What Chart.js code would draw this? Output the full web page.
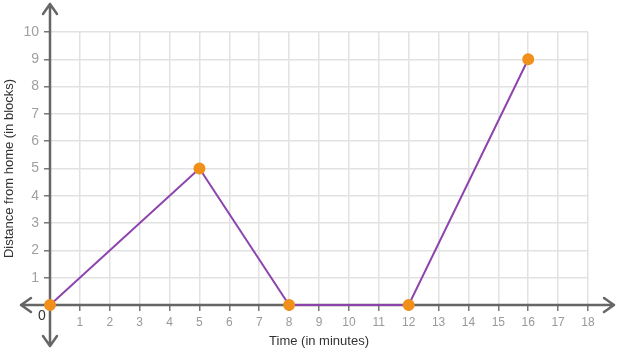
<!DOCTYPE html>
<html>
<head>
<meta charset="utf-8">
<script src="https://cdn.jsdelivr.net/npm/chart.js@4"></script>
<style>
  html, body { margin: 0; padding: 0; background: #fff; }
  #wrap { width: 624px; height: 350px; }
</style>
</head>
<body>
<div id="wrap"><canvas id="chart" width="624" height="350"></canvas></div>
<script>
// data
const times = [0, 5, 8, 12, 16];
const distances = [0, 5, 0, 0, 9];
const xMin = 0, xMax = 18;
const yMin = 0, yMax = 10;

const points = times.map((t, i) => ({ x: t, y: distances[i] }));

// draws the dark axes with open arrow heads, plus the "0" at the origin
const axesArrows = {
    id: 'axesArrows',
    beforeDatasetsDraw(chart) {
        const ctx = chart.ctx;
        const xs = chart.scales.x, ys = chart.scales.y;
        const ox = xs.getPixelForValue(0), oy = ys.getPixelForValue(0);
        ctx.save();
        ctx.strokeStyle = '#666';
        ctx.lineWidth = 2.5;
        ctx.lineCap = 'round';
        ctx.lineJoin = 'round';
        ctx.beginPath();
        ctx.moveTo(21, oy); ctx.lineTo(614, oy);
        ctx.moveTo(ox, 4); ctx.lineTo(ox, 346);
        // right
        ctx.moveTo(604, oy - 7); ctx.lineTo(614, oy); ctx.lineTo(604, oy + 7);
        // left
        ctx.moveTo(31, oy - 7); ctx.lineTo(21, oy); ctx.lineTo(31, oy + 7);
        // top
        ctx.moveTo(ox - 7, 14); ctx.lineTo(ox, 4); ctx.lineTo(ox + 7, 14);
        // bottom
        ctx.moveTo(ox - 7, 336); ctx.lineTo(ox, 346); ctx.lineTo(ox + 7, 336);
        ctx.stroke();
        ctx.fillStyle = '#333';
        ctx.font = '14px "Helvetica Neue", Arial, "Liberation Sans", sans-serif';
        ctx.textAlign = 'center';
        ctx.textBaseline = 'middle';
        ctx.fillText('0', ox - 8, oy + 11);
        ctx.restore();
    }
};

new Chart(document.getElementById('chart').getContext('2d'), {
    type: 'line',
    data: {
        datasets: [{
            data: points,
            borderColor: '#8e44ad',
            borderWidth: 2,
            pointBackgroundColor: '#f0901a',
            pointBorderColor: '#f0901a',
            pointRadius: 5,
            tension: 0,
            clip: false
        }]
    },
    options: {
        responsive: false,
        animation: false,
        layout: { padding: { top: 32, right: 36, left: 0, bottom: 0 } },
        plugins: { legend: { display: false }, tooltip: { enabled: false } },
        scales: {
            x: {
                type: 'linear',
                min: xMin, max: xMax,
                afterFit: s => { s.height = 45; },
                border: { display: false },
                grid: { color: '#e2e2e2', lineWidth: 1.5, tickColor: '#777', tickLength: 6 },
                ticks: {
                    stepSize: 1,
                    padding: 4,
                    color: '#999',
                    font: { family: '"Helvetica Neue", Arial, "Liberation Sans", sans-serif', size: 12 },
                    maxRotation: 0,
                    callback: v => v === 0 ? '' : v
                },
                title: {
                    display: true,
                    text: 'Time (in minutes)',
                    color: '#333',
                    padding: { top: 0, bottom: 1 },
                    font: { family: '"Helvetica Neue", Arial, "Liberation Sans", sans-serif', size: 13 }
                }
            },
            y: {
                min: yMin, max: yMax,
                afterFit: s => { s.width = 50; },
                border: { display: false },
                grid: { color: '#e2e2e2', lineWidth: 1.5, tickColor: '#777', tickLength: 6 },
                ticks: {
                    stepSize: 1,
                    padding: 5,
                    color: '#a0a0a0',
                    font: { family: '"Helvetica Neue", Arial, "Liberation Sans", sans-serif', size: 14 },
                    callback: v => v === 0 ? '' : v
                },
                title: {
                    display: true,
                    text: 'Distance from home (in blocks)',
                    color: '#333',
                    padding: { top: 2, bottom: 0 },
                    font: { family: '"Helvetica Neue", Arial, "Liberation Sans", sans-serif', size: 13 }
                }
            }
        }
    },
    plugins: [axesArrows]
});
</script>
</body>
</html>
